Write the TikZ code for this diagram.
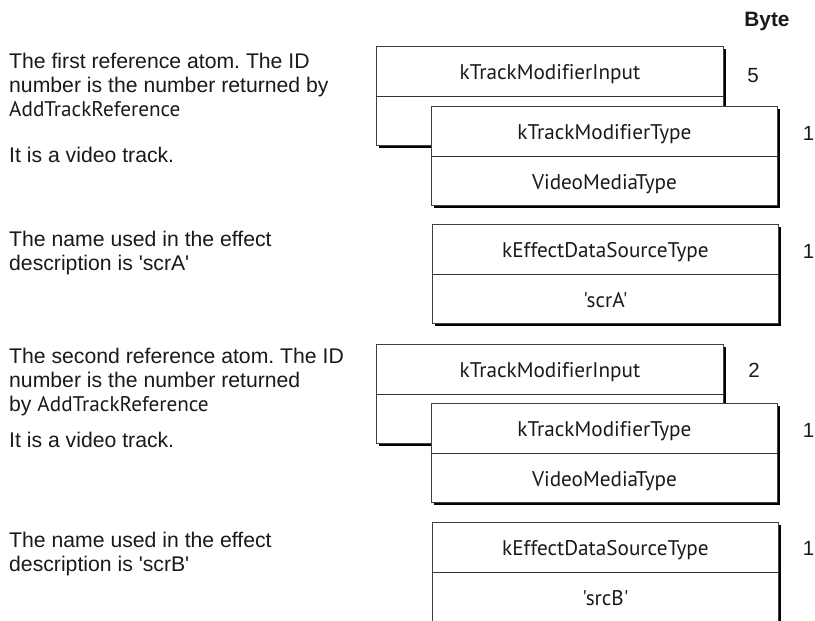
\documentclass[tikz,border=0pt]{standalone}
\usepackage{fontspec}
\setmainfont{Liberation Sans}[Ligatures={TeXOff}]
\newfontfamily\myr{PT Sans}[Ligatures={TeXOff,NoCommon}]
\usetikzlibrary{shadows}
\definecolor{ink}{HTML}{1A1A1A}
\frenchspacing
\begin{document}
\begin{tikzpicture}[x=1pt,y=1pt,
  atom/.style={draw=black!75, line width=0.9pt, fill=white, inner sep=0pt,
    minimum height=99pt, anchor=north west,
    drop shadow={shadow xshift=2.6pt, shadow yshift=-2.6pt, fill=black, opacity=1}},
  divl/.style={draw=black!80, line width=0.9pt},
  btxt/.style={font=\myr\fontsize{21.2}{24}\selectfont, text=ink, inner sep=0pt, anchor=base},
  ltxt/.style={font=\fontsize{21.2}{24}\selectfont, text=ink, inner sep=0pt, anchor=base west},
  num/.style={font=\fontsize{20.5}{23}\selectfont, text=ink, inner sep=0pt, anchor=base}
]
\useasboundingbox[fill=white] (0,0) rectangle (815,-621);

% header
\node[font=\bfseries\fontsize{20.8}{23}\selectfont, text=ink, inner sep=0pt, anchor=base] (byte) at (767,-27) {Byte};

% left descriptions
\node[ltxt] (l1a) at (9,-68) {The first reference atom. The ID};
\node[ltxt] (l1b) at (9,-92) {number is the number returned by};
\node[ltxt] (l1c) at (9,-116) {\myr AddTrackReference};
\node[ltxt] (l1d) at (9,-162) {It is a video track.};
\node[ltxt] (l2a) at (9,-246) {The name used in the effect};
\node[ltxt] (l2b) at (9,-270) {description is 'scrA'};
\node[ltxt] (l3a) at (9,-363) {The second reference atom. The ID};
\node[ltxt] (l3b) at (9,-387) {number is the number returned};
\node[ltxt] (l3c) at (9,-411) {by {\myr AddTrackReference}};
\node[ltxt] (l3d) at (9,-447) {It is a video track.};
\node[ltxt] (l4a) at (9,-547) {The name used in the effect};
\node[ltxt] (l4b) at (9,-571) {description is 'scrB'};

% group 1
\node[atom, minimum width=347pt] (A) at (376,-46) {};
\draw[divl] (A.west) -- (A.east);
\node[btxt] (At) at ([yshift=-33.5]A.north) {kTrackModifierInput};
\node[atom, minimum width=346pt] (B) at (431,-106) {};
\draw[divl] (B.west) -- (B.east);
\node[btxt] (Bt) at ([yshift=-33.5]B.north) {kTrackModifierType};
\node[btxt] (Bb) at ([yshift=-33.5]B.center) {VideoMediaType};
\node[num] (n5) at (753,-82) {5};
\node[num] (n1a) at (808.5,-140) {1};

% group 2
\node[atom, minimum width=346pt] (C) at (432,-224) {};
\draw[divl] (C.west) -- (C.east);
\node[btxt] (Ct) at ([yshift=-33.5]C.north) {kEffectDataSourceType};
\node[btxt] (Cb) at ([yshift=-33.5]C.center) {'scrA'};
\node[num] (n1b) at (808.5,-258) {1};

% group 3
\node[atom, minimum width=347pt] (D) at (376,-344) {};
\draw[divl] (D.west) -- (D.east);
\node[btxt] (Dt) at ([yshift=-33.5]D.north) {kTrackModifierInput};
\node[atom, minimum width=346pt] (E) at (431,-403) {};
\draw[divl] (E.west) -- (E.east);
\node[btxt] (Et) at ([yshift=-33.5]E.north) {kTrackModifierType};
\node[btxt] (Eb) at ([yshift=-33.5]E.center) {VideoMediaType};
\node[num] (n2) at (754,-377) {2};
\node[num] (n1c) at (808.5,-437) {1};

% group 4
\node[atom, minimum width=346pt] (F) at (432,-522) {};
\draw[divl] (F.west) -- (F.east);
\node[btxt] (Ft) at ([yshift=-33.5]F.north) {kEffectDataSourceType};
\node[btxt] (Fb) at ([yshift=-33.5]F.center) {'srcB'};
\node[num] (n1d) at (808.5,-555) {1};
\end{tikzpicture}
\end{document}
